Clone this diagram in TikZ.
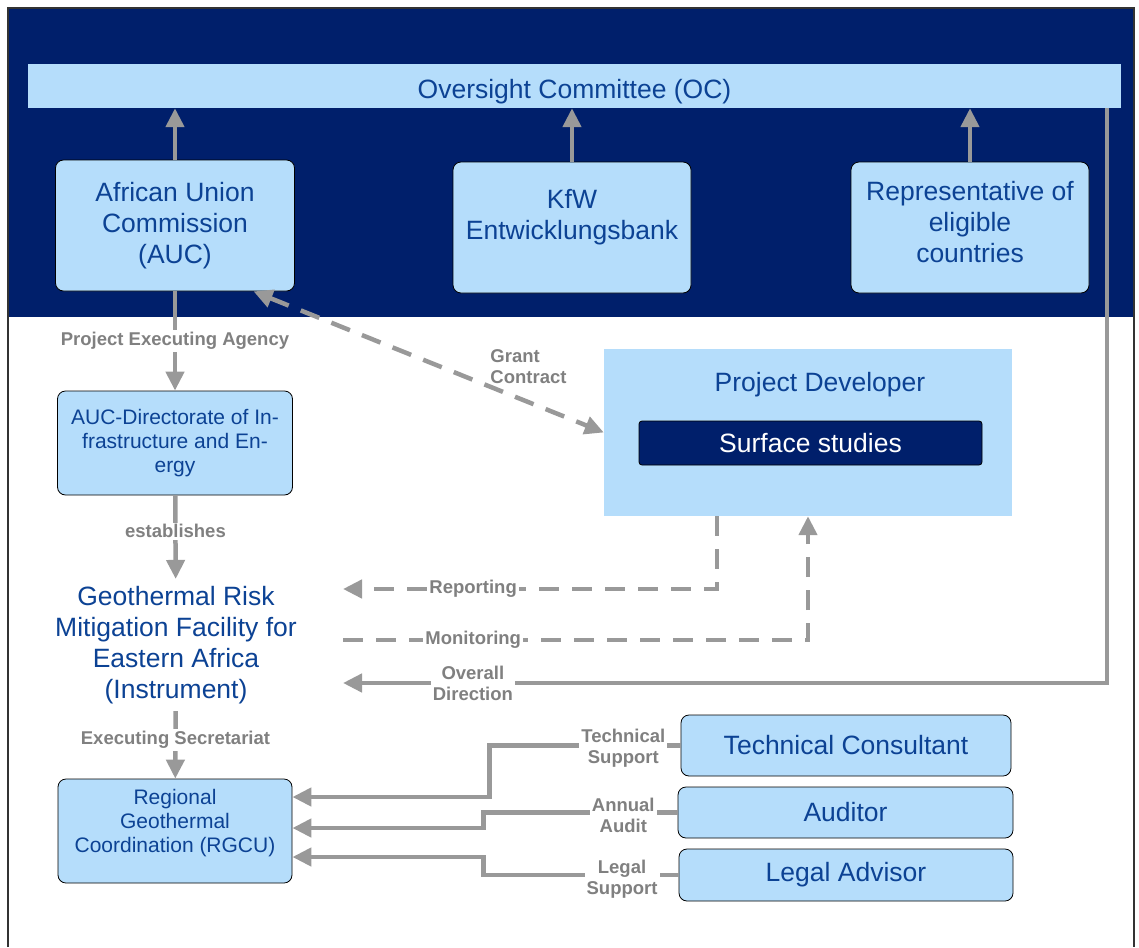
\documentclass[tikz,border=0pt]{standalone}
\usepackage{fontspec}
\setmainfont{Liberation Sans}
\usetikzlibrary{arrows.meta,positioning,calc}
\definecolor{navy}{RGB}{0,31,107}
\definecolor{lightblue}{RGB}{181,221,251}
\definecolor{textblue}{RGB}{12,66,148}
\definecolor{linegray}{RGB}{153,153,153}
\definecolor{taggray}{RGB}{128,128,128}

\begin{document}
\begin{tikzpicture}[x=1pt,y=-1pt,
        >={Triangle[width=18pt,length=19pt]},
        box/.style = {draw=black,line width=.8pt,rounded corners=8pt,fill=lightblue,text=textblue,
                      align=center,inner sep=0pt,font=\fontsize{26.5}{31}\selectfont},
        smallbox/.style = {box,font=\fontsize{21}{24}\selectfont},
        conn/.style = {draw=linegray,line width=4.5pt},
        dconn/.style = {conn,dash pattern=on 20pt off 13pt},
        tag/.style = {text=taggray,font=\bfseries\fontsize{18.5}{21}\selectfont,align=center,inner sep=2pt},
        tagbg/.style = {tag,fill=white}
        ]
        \useasboundingbox (0,0) rectangle (1139,947);

        %Rahmen
        \fill[navy] (7,8) rectangle (1135,317);
        \draw[line width=1.2pt,black!80] (8,947) -- (8,8) -- (1134,8) -- (1134,947);

        %Aufsicht
        \node[fill=lightblue,minimum width=1093pt,minimum height=44pt,text=textblue,text height=25pt,text depth=0pt,
              font=\fontsize{26.5}{31}\selectfont] (oc) at (574.5,86) {Oversight Committee (OC)};
        \node[box,minimum width=239pt,minimum height=131pt] (auc) at (175,225.5) {African Union\\Commission\\(AUC)};
        \node[box,minimum width=238pt,minimum height=131pt,text depth=27pt] (kfw) at (572,227.5) {KfW\\Entwicklungsbank};
        \node[box,minimum width=238pt,minimum height=131pt,text depth=12pt] (rep) at (970,227.5) {Representative of\\eligible\\countries};
        \foreach \n in {auc,kfw,rep}
        \draw[conn,->] (\n) -- (\n |- oc.south);

        %Projektentwickler
        \node[fill=lightblue,minimum width=408pt,minimum height=167pt] (pd) at (808,432.5) {};
        \node[text=textblue,font=\fontsize{26.5}{31}\selectfont] (pdlabel) at (820,385) {Project Developer};
        \node[draw=black,line width=.8pt,rounded corners=3pt,fill=navy,text=white,minimum width=343pt,
              minimum height=44pt,font=\fontsize{26.5}{31}\selectfont] (ss) at (810.5,443) {Surface studies};

        %Instrument
        \node[smallbox,minimum width=235pt,minimum height=104pt] (aucd) at (175,443) {AUC-Directorate of In-\\frastructure and En-\\ergy};
        \node[text=textblue,align=center,inner sep=7pt,font=\fontsize{26.5}{31}\selectfont] (grmf) at (176,645)
             {Geothermal Risk\\Mitigation Facility for\\Eastern Africa\\(Instrument)};
        \node[smallbox,minimum width=234pt,minimum height=104pt,text depth=21pt] (rgcu) at (175,831)
             {Regional\\Geothermal\\Coordination (RGCU)};
        \coordinate (inR) at (343,589);
        \coordinate (inM) at (343,640);
        \coordinate (inO) at (343,683);

        \draw[conn,->] (auc) -- node[tagbg] {Project Executing Agency} (aucd);
        \draw[conn,->] (aucd) -- node[tagbg,pos=.43] {establishes} (grmf);
        \draw[conn,->] (grmf) -- node[tagbg,pos=.43] {Executing Secretariat} (rgcu);
        \draw[dconn,<->] (auc.-40) -- node[tag,pos=.67,anchor=south west,inner sep=0pt,align=left] {Grant\\Contract} (pd.west);
        \draw[dconn,->] ([xshift=-91pt]pd.south) |- node[tagbg,pos=.826] {Reporting} (inR);
        \draw[dconn,->] (inM) -| node[tagbg,pos=.14] {Monitoring} (pd.south);
        \draw[conn,->] ([xshift=532.5pt]oc.south) |- node[tagbg,pos=.915] {Overall\\Direction} (inO);

        %Berater
        \node[box,minimum width=330pt,minimum height=61pt] (tc) at (846,745.5) {Technical Consultant};
        \node[box,minimum width=335pt,minimum height=51pt] (aud) at (845.5,812.5) {Auditor};
        \node[box,minimum width=334pt,minimum height=52pt] (la) at (846,875) {Legal Advisor};
        \draw[conn,->] (tc.west) -- node[tagbg,pos=.3,yshift=-3pt] {Technical\\Support} ++(-191,0) |- ([yshift=34pt]rgcu.east);
        \draw[conn,->] (aud.west) -- node[tagbg,pos=.28,yshift=-3pt] {Annual\\Audit} ++(-194,0) |- ([yshift=3pt]rgcu.east);
        \draw[conn,->] (la.west) -- node[tagbg,pos=.29,yshift=-4pt] {Legal\\Support} ++(-195,0) |- ([yshift=-26pt]rgcu.east);

    \end{tikzpicture}
\end{document}
